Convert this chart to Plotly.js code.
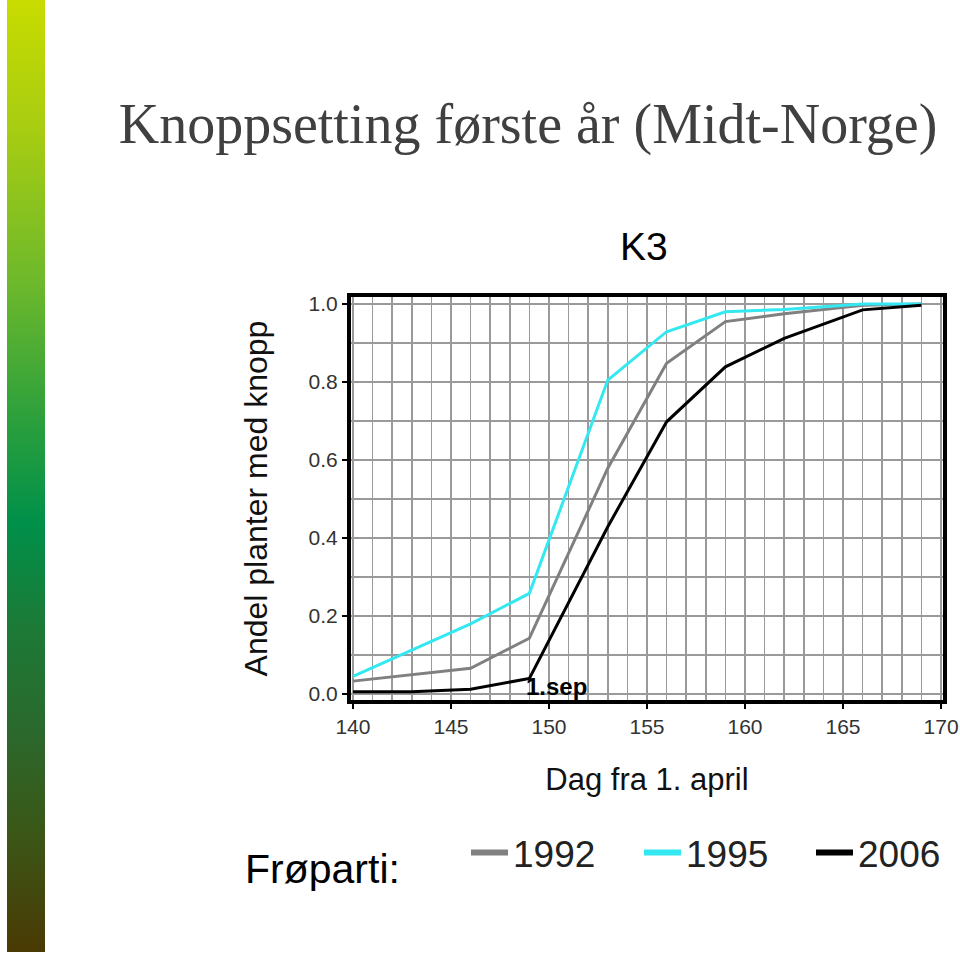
<!DOCTYPE html>
<html>
<head>
<meta charset="utf-8">
<script src="https://cdn.plot.ly/plotly-3.0.1.min.js"></script>
<style>
  html, body { margin: 0; padding: 0; background: #ffffff; }
  #wrap { position: relative; width: 960px; height: 954px; overflow: hidden; }
  #bar { position: absolute; left: 7px; top: 0px; width: 38px; height: 952px;
    background: linear-gradient(to bottom, #c8dc00 0%, #a6cc12 14%, #6cb82c 30%, #2ca03c 44%, #00904a 55%, #1c7a36 66%, #2a6a2e 76%, #3a5818 87%, #4a3a04 100%); }
  #plot { position: absolute; left: 0; top: 0; width: 960px; height: 954px; }
</style>
</head>
<body>
<div id="wrap">
  <div id="bar"></div>
  <div id="plot"></div>
</div>
<script>
// Data
const days = [140, 143, 146, 149, 153, 156, 159, 162, 166, 169];
const y1992 = [0.033, 0.050, 0.066, 0.143, 0.579, 0.848, 0.955, 0.975, 0.997, 1.000];
const y1995 = [0.045, 0.112, 0.180, 0.258, 0.805, 0.929, 0.980, 0.986, 1.000, 1.000];
const y2006 = [0.006, 0.006, 0.012, 0.040, 0.429, 0.698, 0.839, 0.912, 0.985, 0.997];
const seriesNames = ['1992', '1995', '2006'];
const seriesColors = ['#808080', '#33e8f0', '#000000'];
const xTicks = [140, 145, 150, 155, 160, 165, 170];
const yTicks = [0.0, 0.2, 0.4, 0.6, 0.8, 1.0];
const yTickText = ['0.0', '0.2', '0.4', '0.6', '0.8', '1.0'];

const seriesValues = [y1992, y1995, y2006];
const legendIds = ['legend', 'legend2', 'legend3'];

const traces = [];
seriesValues.forEach((vals, i) => {
  traces.push({
    x: days, y: vals, type: 'scatter', mode: 'lines',
    name: seriesNames[i], showlegend: false,
    line: { color: seriesColors[i], width: 3 }
  });
});
// legend-only entries with thicker swatches, one small legend each
seriesNames.forEach((n, i) => {
  traces.push({
    x: [null], y: [null], type: 'scatter', mode: 'lines',
    name: n, showlegend: true, legend: legendIds[i],
    line: { color: seriesColors[i], width: 6 }
  });
});

const legendLeft = [466, 639, 811];
function legendBox(px) {
  return {
    orientation: 'h',
    x: px / 960, xanchor: 'left', xref: 'container',
    y: 1 - 853 / 954, yanchor: 'middle', yref: 'container',
    font: { size: 37, color: '#222222' },
    itemwidth: 37,
    bgcolor: 'rgba(0,0,0,0)', borderwidth: 0
  };
}

const gridCol = '#9a9a9a';
const layout = {
  width: 960, height: 954,
  margin: { l: 351, r: 17, t: 297, b: 254, pad: 0 },
  paper_bgcolor: 'rgba(0,0,0,0)',
  plot_bgcolor: '#ffffff',
  font: { family: 'Liberation Sans, Arial, sans-serif', color: '#333333' },
  title: {
    text: 'Knoppsetting første år (Midt-Norge)',
    font: { family: 'Liberation Serif, Times New Roman, serif', size: 56, color: '#404040' },
    x: 0.55, xref: 'container', xanchor: 'center',
    y: 0.871, yref: 'container', yanchor: 'middle'
  },
  xaxis: {
    range: [139.9, 170.1],
    tickvals: xTicks, ticktext: xTicks.map(String),
    ticks: 'outside', ticklen: 5, tickwidth: 1.5, tickcolor: '#000000',
    tickfont: { size: 21, color: '#333333' },
    showgrid: true, gridcolor: gridCol, gridwidth: 1.5,
    minor: { dtick: 1, tick0: 140, showgrid: true, gridcolor: gridCol, gridwidth: 1.5, ticks: '' },
    zeroline: false,
    showline: true, linecolor: '#000000', linewidth: 4, mirror: true,
    title: { text: 'Dag fra 1. april', font: { size: 31, color: '#111111' }, standoff: 32 }
  },
  yaxis: {
    range: [-0.0154, 1.018],
    tickvals: yTicks, ticktext: yTickText,
    ticks: 'outside', ticklen: 5, tickwidth: 1.5, tickcolor: '#000000',
    tickfont: { size: 21, color: '#333333' },
    showgrid: true, gridcolor: gridCol, gridwidth: 1.5,
    minor: { dtick: 0.1, tick0: 0, showgrid: true, gridcolor: gridCol, gridwidth: 1.5, ticks: '' },
    zeroline: false,
    showline: true, linecolor: '#000000', linewidth: 4, mirror: true,
    title: { text: 'Andel planter med knopp', font: { size: 32, color: '#111111' }, standoff: 32 }
  },
  legend: legendBox(legendLeft[0]),
  legend2: legendBox(legendLeft[1]),
  legend3: legendBox(legendLeft[2]),
  annotations: [
    { text: 'K3', xref: 'paper', yref: 'paper', x: 0.495, y: 1.125, xanchor: 'center', yanchor: 'middle',
      showarrow: false, font: { size: 39, color: '#000000' } },
    { text: '1.sep', xref: 'x', yref: 'y', x: 150.4, y: 0.018, xanchor: 'center', yanchor: 'middle',
      showarrow: false, font: { size: 24, color: '#000000', weight: 'bold' } },
    { text: 'Frøparti:', xref: 'paper', yref: 'paper', x: -0.182, y: -0.42, xanchor: 'left', yanchor: 'middle',
      showarrow: false, font: { size: 41, color: '#000000' } }
  ]
};

Plotly.newPlot('plot', traces, layout, { displayModeBar: false, staticPlot: true });
</script>
</body>
</html>
